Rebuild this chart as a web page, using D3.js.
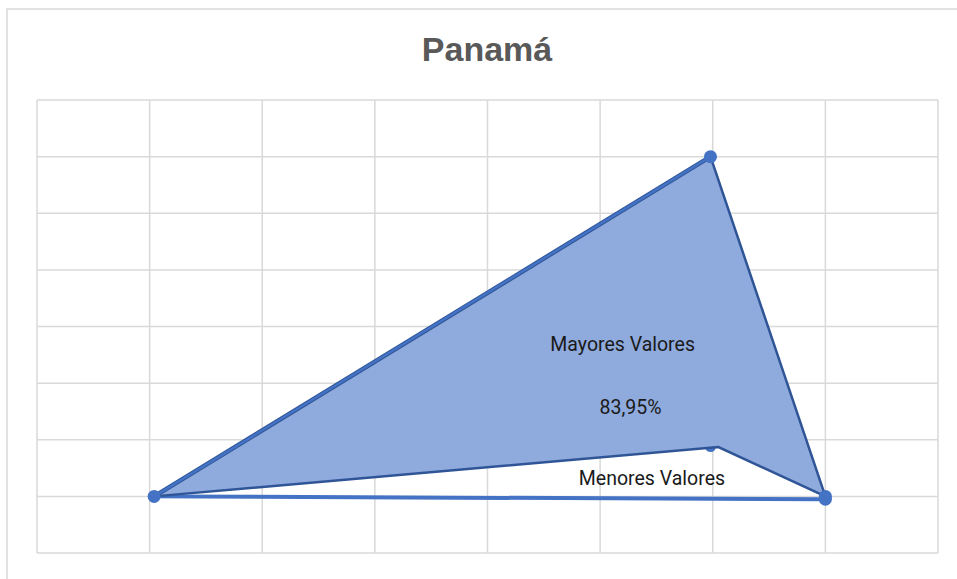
<!DOCTYPE html>
<html><head><meta charset="utf-8">
<script src="https://cdn.jsdelivr.net/npm/d3@7"></script>
<style>html,body{margin:0;padding:0;background:#fff;}</style>
</head><body>
<script>
const title = "Panamá";
const xTicks = [0,1,2,3,4,5,6,7,8];
const yTicks = [0,1,2,3,4,5,6,7,8];
// upper series (Mayores Valores)
const mayoresX = [1.04, 5.98, 7.0];
const mayoresY = [1.0, 7.0, 1.0];
// lower series (Menores Valores) - bottom edge of the filled area
const menoresX = [7.0, 6.05, 1.04];
const menoresY = [1.0, 1.87, 1.0];
// base line
const baseX = [1.04, 7.0];
const baseY = [1.0, 0.95];
const labels = ["Mayores Valores", "83,95%", "Menores Valores"];
const labelX = [5.20, 5.27, 5.46];
const labelY = [3.65, 2.55, 1.30];

const W = 957, H = 579;
const svg = d3.select("body").append("svg").attr("width", W).attr("height", H);
svg.append("rect").attr("x", 7).attr("y", 9).attr("width", 960).attr("height", 580)
  .attr("fill", "#fff").attr("stroke", "#d9d9d9").attr("stroke-width", 1.5);

svg.append("text").attr("x", 487).attr("y", 61).attr("text-anchor", "middle")
  .attr("font-family", "Liberation Sans, Arial, sans-serif").attr("font-weight", "bold")
  .attr("font-size", 34).attr("fill", "#595959").text(title);

const x = d3.scaleLinear().domain([0, 8]).range([37, 938]);
const y = d3.scaleLinear().domain([0, 8]).range([553, 100]);

const g = svg.append("g");
g.selectAll("line.vx").data(xTicks).join("line")
  .attr("x1", d => x(d)).attr("x2", d => x(d)).attr("y1", y(0)).attr("y2", y(8))
  .attr("stroke", "#d9d9d9").attr("stroke-width", 1.5);
g.selectAll("line.hy").data(yTicks).join("line")
  .attr("y1", d => y(d)).attr("y2", d => y(d)).attr("x1", x(0)).attr("x2", x(8))
  .attr("stroke", "#d9d9d9").attr("stroke-width", 1.5);

const upper = mayoresX.map((v, i) => [v, mayoresY[i]]);
const lower = menoresX.map((v, i) => [v, menoresY[i]]);
const poly = upper.concat(lower.slice(1));
const line = d3.line().x(d => x(d[0])).y(d => y(d[1]));

// base line
const base = baseX.map((v, i) => [v, baseY[i]]);
g.append("path").attr("d", line(base)).attr("fill", "none")
  .attr("stroke", "#4472c4").attr("stroke-width", 4);

// lower marker hidden under area
g.append("circle").attr("cx", x(5.98)).attr("cy", y(1.88)).attr("r", 5.5).attr("fill", "#4472c4");

g.append("path").attr("d", line(poly) + "Z").attr("fill", "#8faadc")
  .attr("stroke", "#2f5597").attr("stroke-width", 2.5).attr("stroke-linejoin", "miter");

g.append("path").attr("d", line(upper.slice(0, 2))).attr("fill", "none")
  .attr("stroke", "#2f5597").attr("stroke-width", 4.5);
g.append("path").attr("d", line(upper.slice(0, 2))).attr("fill", "none")
  .attr("stroke", "#4472c4").attr("stroke-width", 2.5);

g.selectAll("circle.m").data([upper[0], upper[1], upper[2], base[1]]).join("circle")
  .attr("cx", d => x(d[0])).attr("cy", d => y(d[1])).attr("r", 6.5).attr("fill", "#4472c4");

g.selectAll("text.l").data(labels).join("text")
  .attr("x", (d, i) => x(labelX[i])).attr("y", (d, i) => y(labelY[i]))
  .attr("text-anchor", "middle").attr("dominant-baseline", "middle")
  .attr("font-family", "Roboto, sans-serif").attr("font-size", 19.5).attr("fill", "#1a1a1a")
  .text(d => d);
</script>
</body></html>
